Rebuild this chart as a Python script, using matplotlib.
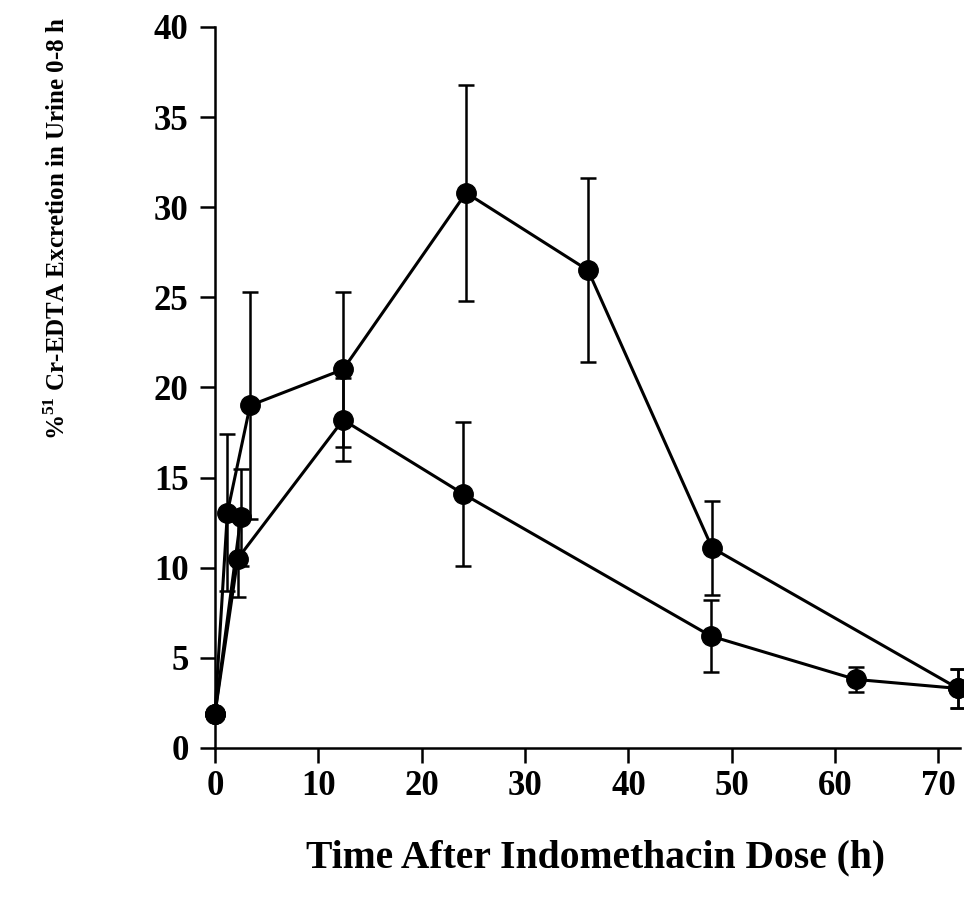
import matplotlib.pyplot as plt

plt.rcParams['font.family'] = ['Liberation Serif', 'DejaVu Serif']
plt.rcParams['font.weight'] = 'bold'
plt.rcParams['mathtext.fontset'] = 'custom'
plt.rcParams['mathtext.rm'] = 'Liberation Serif'
plt.rcParams['mathtext.bf'] = 'Liberation Serif:bold'

# serie superior
t_sup = [0, 1.2, 3.4, 12.4, 24.3, 36.1, 48.1, 71.9]
y_sup = [1.9, 13.05, 19.0, 21.0, 30.8, 26.5, 11.1, 3.3]
e_sup = [0, 4.35, 6.3, 4.3, 6.0, 5.1, 2.6, 1.1]

# serie intermedia (solo tiempos iniciales)
t_med = [0, 2.5]
y_med = [1.9, 12.8]
e_med = [0, 2.7]

# serie inferior
t_inf = [0, 2.2, 12.4, 24.0, 48.0, 62.0, 71.9]
y_inf = [1.9, 10.5, 18.2, 14.1, 6.2, 3.8, 3.3]
e_inf = [0, 2.1, 2.3, 4.0, 2.0, 0.7, 1.1]

fig = plt.figure(figsize=(9.64, 9.0), dpi=100)
ax = fig.add_axes([0.223, 0.169, 0.773, 0.801])

for t, y, e in [(t_inf, y_inf, e_inf), (t_med, y_med, e_med), (t_sup, y_sup, e_sup)]:
    lineas = ax.errorbar(t, y, yerr=e, color='black', marker='o', markersize=14,
                         linewidth=2.2, elinewidth=1.8, capsize=6, capthick=1.8)
    for parte in lineas.lines[0:1] + tuple(lineas.lines[1]) + tuple(lineas.lines[2]):
        parte.set_clip_on(False)

ax.set_xlim(0, 72.1)
ax.set_ylim(0, 40)
ax.set_xticks(range(0, 71, 10))
ax.set_yticks(range(0, 41, 5))

for lado in ['top', 'right']:
    ax.spines[lado].set_visible(False)
for lado in ['left', 'bottom']:
    ax.spines[lado].set_linewidth(1.8)

ax.tick_params(axis='both', direction='out', length=11, width=1.8, labelsize=25)
ax.tick_params(axis='x', pad=5)
ax.tick_params(axis='y', pad=8)

ax.set_xlabel('Time After Indomethacin Dose (h)', fontsize=28.5, fontweight='bold')
ax.xaxis.set_label_coords(0.51, -0.127)
ax.set_ylabel(r'%$^{\mathbf{51}}$ Cr-EDTA Excretion in Urine 0-8 h', fontsize=18, fontweight='bold')
ax.yaxis.set_label_coords(-0.195, 0.72)

fig.savefig('out.png', dpi=100)
